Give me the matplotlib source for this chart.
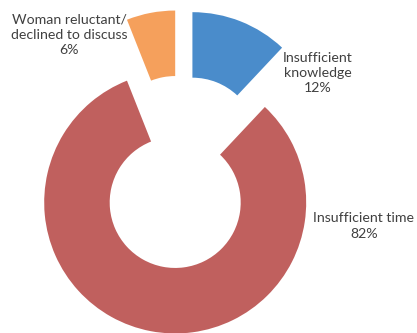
import matplotlib.pyplot as plt

# slice order: clockwise from 12 o'clock
categories = ["Insufficient\nknowledge", "Insufficient time", "Woman reluctant/\ndeclined to discuss"]
percents = [12, 82, 6]
colors = ["#4A8CCB", "#C0605E", "#F5A05C"]

fig = plt.figure(figsize=(4.17, 3.33), dpi=100)
ax = fig.add_axes([0, 0, 1, 1])

# axes units are pixels
ax.pie(percents, colors=colors, startangle=90, counterclock=False,
       radius=131, center=(181, 161), explode=[31, 31, 31],
       wedgeprops=dict(width=65.5, linewidth=0))

txt = dict(ha="center", va="center", fontsize=10.2, color="#404040",
           family="Lato", linespacing=1.3)
ax.text(318, 260, "Insufficient\nknowledge\n12%", **txt)
ax.text(364, 107, "Insufficient time\n82%", **txt)
ax.text(69, 298, "Woman reluctant/\ndeclined to discuss\n6%", **txt)

ax.set_xlim(0, 417)
ax.set_ylim(0, 333)
ax.set_aspect("equal")
ax.axis("off")
fig.savefig("out.png", dpi=100)
